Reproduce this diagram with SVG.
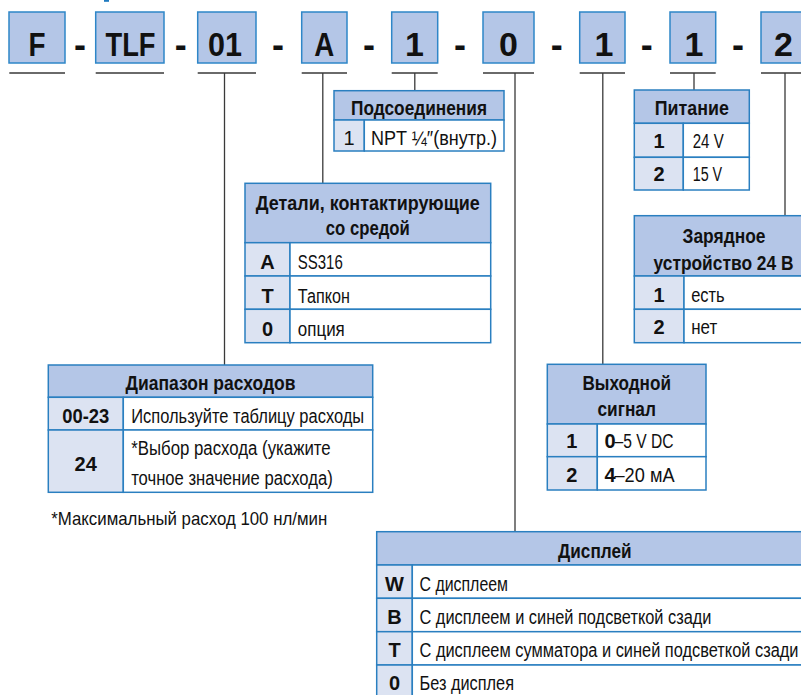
<svg xmlns="http://www.w3.org/2000/svg" width="801" height="695" viewBox="0 0 801 695">
<style>
.box{fill:#b4c6e7;stroke:#2e86c8;stroke-width:1.5}
.hd{fill:#b4c6e7;stroke:#2a7fc0;stroke-width:1.5}
.key{fill:#dce3f2;stroke:#2a7fc0;stroke-width:1.5}
.val{fill:#ffffff;stroke:#2a7fc0;stroke-width:1.5}
.ln{stroke:#3a3a3a;stroke-width:1.3;fill:none}
text{font-family:"Liberation Sans Narrow","Liberation Sans",Arial,sans-serif;fill:#111}
.big{font-size:34px;font-weight:bold;text-anchor:middle}
.dash{font-size:36px;font-weight:bold;text-anchor:middle}
.h{font-size:20px;font-weight:bold;text-anchor:middle}
.k{font-size:20px;font-weight:bold;text-anchor:middle}
.kr{font-size:20px;text-anchor:middle}
.v{font-size:20px}
.vb{font-size:20px;font-weight:bold}
</style>
<rect width="801" height="695" fill="#ffffff"/>
<rect x="104" y="0" width="5" height="1.8" fill="#1f7ac0"/>

<g id="code">
  <g id="box-F"><rect class="box" x="9" y="12" width="56" height="51"/><text class="big" x="37" y="56" textLength="17" lengthAdjust="spacingAndGlyphs">F</text></g>
  <g id="box-TLF"><rect class="box" x="95.7" y="12" width="68.3" height="51"/><text class="big" x="130.5" y="56" textLength="50" lengthAdjust="spacingAndGlyphs">TLF</text></g>
  <g id="box-01"><rect class="box" x="197.7" y="12" width="58.3" height="51"/><text class="big" x="225" y="56" textLength="34" lengthAdjust="spacingAndGlyphs">01</text></g>
  <g id="box-A"><rect class="box" x="301.7" y="12" width="45.3" height="51"/><text class="big" x="324.3" y="56" textLength="20" lengthAdjust="spacingAndGlyphs">A</text></g>
  <g id="box-1a"><rect class="box" x="391.7" y="12" width="46" height="51"/><text class="big" x="414.5" y="56">1</text></g>
  <g id="box-0"><rect class="box" x="483" y="12" width="51" height="51"/><text class="big" x="508.5" y="56">0</text></g>
  <g id="box-1b"><rect class="box" x="579.7" y="12" width="45.3" height="51"/><text class="big" x="604" y="56">1</text></g>
  <g id="box-1c"><rect class="box" x="670" y="12" width="45.7" height="51"/><text class="big" x="694" y="56">1</text></g>
  <g id="box-2"><rect class="box" x="761" y="12" width="54" height="51"/><text class="big" x="783.5" y="56">2</text></g>
  <g id="dashes">
    <text class="dash" x="80" y="57">-</text>
    <text class="dash" x="180.7" y="57">-</text>
    <text class="dash" x="278" y="57">-</text>
    <text class="dash" x="369" y="57">-</text>
    <text class="dash" x="460" y="57">-</text>
    <text class="dash" x="556.7" y="57">-</text>
    <text class="dash" x="646.7" y="57">-</text>
    <text class="dash" x="738" y="57">-</text>
  </g>
</g>

<g id="connectors">
  <path class="ln" d="M9.3 73H65 M95.7 73H164 M197.7 73H256 M301.7 73H347 M391.7 73H437.7 M483 73H534 M579.7 73H625 M670 73H715.7 M761 73H801"/>
  <path class="ln" d="M224.5 73V365 M322.8 73V183.3 M414.8 73V90.7 M515 73V531.7 M602.8 73V364.3 M694 73V90 M785 73V215.7"/>
</g>

<g id="t-podsoed">
  <rect class="hd" x="334" y="90.7" width="170" height="29.3"/>
  <rect class="key" x="334" y="120" width="30.3" height="31"/>
  <rect class="val" x="364.3" y="120" width="139.7" height="31"/>
  <text class="h" x="419" y="115" textLength="136" lengthAdjust="spacingAndGlyphs">Подсоединения</text>
  <text class="kr" x="349" y="145">1</text>
  <text class="v" x="371" y="145" textLength="126" lengthAdjust="spacingAndGlyphs">NPT ¼″(внутр.)</text>
</g>

<g id="t-pitanie">
  <rect class="hd" x="634.3" y="90" width="115" height="33.3"/>
  <rect class="key" x="634.3" y="123.3" width="49" height="34"/>
  <rect class="val" x="683.3" y="123.3" width="66" height="34"/>
  <rect class="key" x="634.3" y="157.3" width="49" height="32.7"/>
  <rect class="val" x="683.3" y="157.3" width="66" height="32.7"/>
  <text class="h" x="691.8" y="115" textLength="74" lengthAdjust="spacingAndGlyphs">Питание</text>
  <text class="k" x="659" y="148.3">1</text>
  <text class="v" x="692.7" y="148.3" textLength="31" lengthAdjust="spacingAndGlyphs">24 V</text>
  <text class="k" x="659" y="181">2</text>
  <text class="v" x="692.7" y="181" textLength="29.5" lengthAdjust="spacingAndGlyphs">15 V</text>
</g>

<g id="t-detali">
  <rect class="hd" x="245" y="183.3" width="245.7" height="59.4"/>
  <rect class="key" x="245" y="242.7" width="45" height="33.3"/>
  <rect class="val" x="290" y="242.7" width="200.7" height="33.3"/>
  <rect class="key" x="245" y="276" width="45" height="33.3"/>
  <rect class="val" x="290" y="276" width="200.7" height="33.3"/>
  <rect class="key" x="245" y="309.3" width="45" height="33.4"/>
  <rect class="val" x="290" y="309.3" width="200.7" height="33.4"/>
  <text class="h" x="367.8" y="210" textLength="224" lengthAdjust="spacingAndGlyphs">Детали, контактирующие</text>
  <text class="h" x="367.8" y="234.5" textLength="84" lengthAdjust="spacingAndGlyphs">со средой</text>
  <text class="k" x="267.5" y="269.3">A</text>
  <text class="k" x="267.5" y="302.7">T</text>
  <text class="k" x="267.5" y="335.7">0</text>
  <text class="v" x="297.8" y="269.3" textLength="45" lengthAdjust="spacingAndGlyphs">SS316</text>
  <text class="v" x="297.8" y="302.7" textLength="52" lengthAdjust="spacingAndGlyphs">Тапкон</text>
  <text class="v" x="297.8" y="335.7" textLength="47" lengthAdjust="spacingAndGlyphs">опция</text>
</g>

<g id="t-zaryad">
  <rect class="hd" x="634.3" y="215.7" width="180" height="60.3"/>
  <rect class="key" x="634.3" y="276" width="49.7" height="33.3"/>
  <rect class="val" x="684" y="276" width="130" height="33.3"/>
  <rect class="key" x="634.3" y="309.3" width="49.7" height="33.4"/>
  <rect class="val" x="684" y="309.3" width="130" height="33.4"/>
  <text class="h" x="724" y="242.7" textLength="83" lengthAdjust="spacingAndGlyphs">Зарядное</text>
  <text class="h" x="723.5" y="270" textLength="140" lengthAdjust="spacingAndGlyphs">устройство  24 В</text>
  <text class="k" x="659" y="301.7">1</text>
  <text class="k" x="659" y="334.3">2</text>
  <text class="v" x="691.2" y="301.7" textLength="33.5" lengthAdjust="spacingAndGlyphs">есть</text>
  <text class="v" x="691.2" y="334.3" textLength="26" lengthAdjust="spacingAndGlyphs">нет</text>
</g>

<g id="t-diapazon">
  <rect class="hd" x="48.3" y="365" width="324.4" height="32.3"/>
  <rect class="key" x="48.3" y="397.3" width="75" height="32.7"/>
  <rect class="val" x="123.3" y="397.3" width="249.4" height="32.7"/>
  <rect class="key" x="48.3" y="430" width="75" height="62.3"/>
  <rect class="val" x="123.3" y="430" width="249.4" height="62.3"/>
  <text class="h" x="210.5" y="390" textLength="170" lengthAdjust="spacingAndGlyphs">Диапазон расходов</text>
  <text class="k" x="85.7" y="422.7" textLength="47" lengthAdjust="spacingAndGlyphs">00-23</text>
  <text class="k" x="85.7" y="470.7">24</text>
  <text class="v" x="131.2" y="422.7" textLength="233" lengthAdjust="spacingAndGlyphs">Используйте таблицу расходы</text>
  <text class="v" x="131.2" y="455" textLength="199.5" lengthAdjust="spacingAndGlyphs">*Выбор расхода (укажите</text>
  <text class="v" x="131.2" y="485" textLength="201.5" lengthAdjust="spacingAndGlyphs">точное значение расхода)</text>
</g>

<text id="footnote" class="v" x="51.2" y="525" style="font-size:19px" textLength="276" lengthAdjust="spacingAndGlyphs">*Максимальный расход 100 нл/мин</text>

<g id="t-vyhod">
  <rect class="hd" x="547.3" y="364.3" width="158.7" height="59.7"/>
  <rect class="key" x="547.3" y="424" width="50" height="32.7"/>
  <rect class="val" x="597.3" y="424" width="108.7" height="32.7"/>
  <rect class="key" x="547.3" y="456.7" width="50" height="33.3"/>
  <rect class="val" x="597.3" y="456.7" width="108.7" height="33.3"/>
  <text class="h" x="626.7" y="390" textLength="88.5" lengthAdjust="spacingAndGlyphs">Выходной</text>
  <text class="h" x="626.7" y="416" textLength="58.5" lengthAdjust="spacingAndGlyphs">сигнал</text>
  <text class="k" x="571.7" y="448.3">1</text>
  <text class="k" x="571.7" y="481.7">2</text>
  <text class="vb" x="604.5" y="448.3">0</text>
  <text class="v" x="614.5" y="448.3" textLength="59" lengthAdjust="spacingAndGlyphs">–5 V DC</text>
  <text class="vb" x="604.5" y="481.7">4</text>
  <text class="v" x="614.5" y="481.7" textLength="60" lengthAdjust="spacingAndGlyphs">–20 мА</text>
</g>

<g id="t-display">
  <rect class="hd" x="376.7" y="531.7" width="436.3" height="33.3"/>
  <rect class="key" x="376.7" y="565" width="35.6" height="33.3"/>
  <rect class="val" x="412.3" y="565" width="400.7" height="33.3"/>
  <rect class="key" x="376.7" y="598.3" width="35.6" height="33.4"/>
  <rect class="val" x="412.3" y="598.3" width="400.7" height="33.4"/>
  <rect class="key" x="376.7" y="631.7" width="35.6" height="33.3"/>
  <rect class="val" x="412.3" y="631.7" width="400.7" height="33.3"/>
  <rect class="key" x="376.7" y="665" width="35.6" height="33.3"/>
  <rect class="val" x="412.3" y="665" width="400.7" height="33.3"/>
  <text class="h" x="594.8" y="558.3" textLength="73.5" lengthAdjust="spacingAndGlyphs">Дисплей</text>
  <text class="k" x="394.5" y="591">W</text>
  <text class="k" x="394.5" y="624.3">B</text>
  <text class="k" x="394.5" y="656.7">T</text>
  <text class="k" x="394.5" y="690">0</text>
  <text class="v" x="419.5" y="591" textLength="88.5" lengthAdjust="spacingAndGlyphs">С дисплеем</text>
  <text class="v" x="419.5" y="624.3" textLength="292" lengthAdjust="spacingAndGlyphs">С дисплеем и синей подсветкой сзади</text>
  <text class="v" x="419.5" y="656.7" textLength="379" lengthAdjust="spacingAndGlyphs">С дисплеем сумматора и синей подсветкой сзади</text>
  <text class="v" x="419.5" y="690" textLength="94.5" lengthAdjust="spacingAndGlyphs">Без дисплея</text>
</g>
</svg>
